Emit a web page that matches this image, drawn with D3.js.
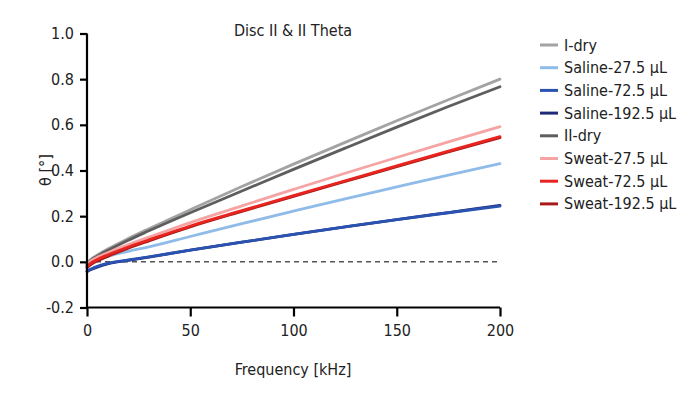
<!DOCTYPE html>
<html><head><meta charset="utf-8">
<script src="https://cdn.jsdelivr.net/npm/d3@7"></script>
<style>
body{margin:0;background:#fff;}
text{font-family:"DejaVu Sans Condensed","DejaVu Sans",sans-serif;font-stretch:condensed;fill:#222;}
</style></head>
<body><svg id="c" width="700" height="400"></svg>
<script>
const freqs = [0, 2, 5, 10, 20, 30, 50, 75, 100, 125, 150, 175, 200];
const seriesNames = ["I-dry","Saline-27.5 µL","Saline-72.5 µL","Saline-192.5 µL","II-dry","Sweat-27.5 µL","Sweat-72.5 µL","Sweat-192.5 µL"];
const seriesColors = ["#a3a3a3","#8fbbe9","#2a52b0","#1f2b78","#5e5e5e","#f5a3a3","#e8241f","#a81a1a"];
const iDry      = [-0.005,0.012,0.03,0.056,0.102,0.145,0.228,0.33,0.428,0.523,0.618,0.71,0.80];
const saline275 = [-0.015,-0.004,0.008,0.024,0.046,0.066,0.111,0.167,0.222,0.276,0.328,0.38,0.43];
const saline725 = [-0.04,-0.031,-0.02,-0.007,0.008,0.022,0.051,0.086,0.12,0.153,0.185,0.215,0.244];
const saline1925= [-0.043,-0.034,-0.023,-0.009,0.006,0.021,0.051,0.086,0.12,0.153,0.185,0.216,0.247];
const iiDry     = [-0.01,0.008,0.025,0.05,0.095,0.136,0.215,0.31,0.405,0.498,0.59,0.68,0.767];
const sweat275  = [-0.01,0.005,0.02,0.04,0.076,0.108,0.172,0.245,0.317,0.388,0.457,0.525,0.592];
const sweat725  = [-0.02,-0.005,0.01,0.03,0.065,0.096,0.157,0.224,0.29,0.355,0.42,0.485,0.548];
const sweat1925 = [-0.026,-0.011,0.004,0.024,0.06,0.092,0.153,0.221,0.287,0.352,0.417,0.481,0.544];
const seriesValues = [iDry,saline275,saline725,saline1925,iiDry,sweat275,sweat725,sweat1925];
const drawOrder = [0,4,5,1,7,6,3,2];
const xTicks = [0,50,100,150,200];
const yTicks = [-0.2,0,0.2,0.4,0.6,0.8,1.0];

const svg = d3.select("#c");
const x = d3.scaleLinear().domain([0,200]).range([87,500]);
const y = d3.scaleLinear().domain([-0.2,1.0]).range([307.5,33.5]);

// zero dashed line
svg.append("line").attr("x1",x(0)).attr("x2",x(200)).attr("y1",y(0)).attr("y2",y(0))
  .attr("stroke","#555").attr("stroke-width",1.5).attr("stroke-dasharray","5,4");

const line = d3.line().x((d,i)=>x(freqs[i])).y(d=>y(d)).curve(d3.curveMonotoneX);
drawOrder.forEach(k=>{
  svg.append("path").datum(seriesValues[k]).attr("d",line)
    .attr("fill","none").attr("stroke",seriesColors[k]).attr("stroke-width",2.8)
    .attr("stroke-linecap","round");
});

// axes
const fmt = d => d3.format(".1f")(d).replace("\u2212","-");
const yAxis = svg.append("g").attr("transform",`translate(${x(0)},0)`)
  .call(d3.axisLeft(y).tickValues(yTicks).tickFormat(fmt).tickSize(7).tickPadding(6));
const xAxis = svg.append("g").attr("transform",`translate(0,${y(-0.2)})`)
  .call(d3.axisBottom(x).tickValues(xTicks).tickSize(9).tickPadding(8));
[yAxis,xAxis].forEach(g=>{
  g.select(".domain").attr("stroke","#000").attr("stroke-width",2.2);
  g.selectAll(".tick line").attr("stroke","#000").attr("stroke-width",2.2);
  g.selectAll("text").attr("font-size",16).attr("fill","#222")
   .attr("font-family",'"DejaVu Sans Condensed","DejaVu Sans",sans-serif');
});
yAxis.select(".domain").attr("d",`M0,${y(1.0)}V${y(-0.2)}`);
xAxis.select(".domain").attr("d",`M${x(0)},0H${x(200)}`);

// title & labels
svg.append("text").attr("x",293).attr("y",36).attr("text-anchor","middle").attr("font-size",16).text("Disc II & II Theta");
svg.append("text").attr("x",293).attr("y",375).attr("text-anchor","middle").attr("font-size",16).text("Frequency [kHz]");
svg.append("text").attr("transform","translate(51,170) rotate(-90)").attr("text-anchor","middle").attr("font-size",16).text("θ [°]");

// legend
const lg = svg.append("g");
seriesNames.forEach((n,i)=>{
  const yy = 45 + i*22.7;
  lg.append("line").attr("x1",540).attr("x2",558).attr("y1",yy).attr("y2",yy)
    .attr("stroke",seriesColors[i]).attr("stroke-width",3);
  lg.append("text").attr("x",564).attr("y",yy+5.5).attr("font-size",16).text(n);
});
</script></body></html>
